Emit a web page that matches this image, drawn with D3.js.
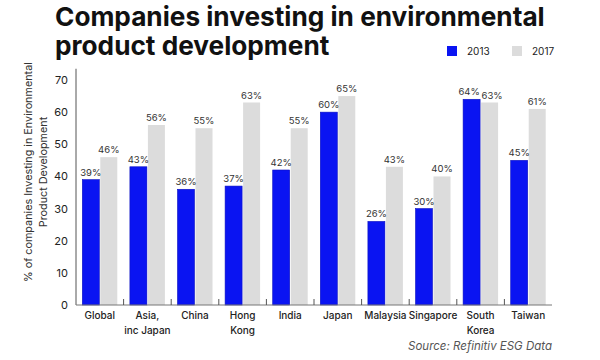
<!DOCTYPE html>
<html>
<head>
<meta charset="utf-8">
<script src="https://cdn.jsdelivr.net/npm/d3@7"></script>
<style>
  html, body { margin: 0; padding: 0; background: #fff; }
  svg { display: block; font-family: Inter, "Open Sans", sans-serif; }
</style>
</head>
<body>
<svg id="chart" width="600" height="360"></svg>
<script>
const categories = [["Global"], ["Asia,", "inc Japan"], ["China"], ["Hong", "Kong"], ["India"], ["Japan"], ["Malaysia"], ["Singapore"], ["South", "Korea"], ["Taiwan"]];
const seriesNames = ["2013", "2017"];
const values2013 = [39, 43, 36, 37, 42, 60, 26, 30, 64, 45];
const values2017 = [46, 56, 55, 63, 55, 65, 43, 40, 63, 61];
const yTicks = [0, 10, 20, 30, 40, 50, 60, 70];
const colors = ["#0a14f2", "#dcdcdc"];
const titleLines = ["Companies investing in environmental", "product development"];
const yLabelLines = ["% of companies Investing in Environmental", "Product Development"];
const sourceText = "Source: Refinitiv ESG Data";

const svg = d3.select("#chart");
const catKeys = categories.map(c => c.join(" "));
const data = catKeys.map((k, i) => ({ key: k, lines: categories[i], vals: [values2013[i], values2017[i]] }));

const x0 = d3.scaleBand().domain(catKeys).range([76, 552]).paddingInner(0).paddingOuter(0);
const x1 = d3.scaleBand().domain(seriesNames).range([0, x0.bandwidth()]).paddingInner(0.0556).paddingOuter(0.35);
const y = d3.scaleLinear().domain([0, 70]).range([305, 80]);

// Title
const title = svg.append("g");
titleLines.forEach((t, i) => {
  title.append("text")
    .attr("x", 55).attr("y", 26 + i * 29)
    .attr("font-size", 26).attr("font-weight", 700).attr("fill", "#111")
    .attr("font-family", "Inter, sans-serif")
    .text(t);
});
const tnode = title.select("text").node();
const w = tnode.getComputedTextLength();
const fs = Math.min(27, 26 * 490 / w);
title.selectAll("text").attr("font-size", fs);

// Legend
const legend = svg.append("g");
const legX = [447, 512];
seriesNames.forEach((s, i) => {
  legend.append("rect").attr("x", legX[i]).attr("y", 46).attr("width", 10).attr("height", 10).attr("fill", colors[i]);
  legend.append("text").attr("x", legX[i] + 20).attr("y", 55).attr("font-size", 10).attr("fill", "#222").text(s);
});

// Y axis
svg.append("line").attr("x1", 76).attr("x2", 76).attr("y1", y(0)).attr("y2", y(73.5)).attr("stroke", "#555").attr("stroke-width", 1);
const yAxis = d3.axisLeft(y).tickValues(yTicks).tickSize(0).tickPadding(8).tickFormat(d3.format("d"));
const yg = svg.append("g").attr("transform", "translate(76,0)").call(yAxis);
yg.select(".domain").remove();
yg.selectAll("text").attr("font-size", 11).attr("fill", "#222").attr("font-family", "Inter, sans-serif");

// Y label
const yl = svg.append("g").attr("transform", "translate(0,172) rotate(-90)");
yLabelLines.forEach((t, i) => {
  yl.append("text").attr("x", 0).attr("y", 32 + i * 15).attr("text-anchor", "middle")
    .attr("font-size", 10.8).attr("fill", "#333").text(t);
});

// Bars
const groups = svg.append("g").selectAll("g").data(data).join("g")
  .attr("transform", d => `translate(${x0(d.key)},0)`);
groups.selectAll("rect").data(d => d.vals.map((v, i) => ({ s: seriesNames[i], v, i }))).join("rect")
  .attr("x", d => x1(d.s)).attr("width", x1.bandwidth())
  .attr("y", d => y(d.v)).attr("height", d => y(0) - y(d.v))
  .attr("fill", d => colors[d.i])
  .attr("stroke", d => d.i === 0 ? "#0a10c0" : "none").attr("stroke-width", 0.6);
groups.selectAll("text.val").data(d => d.vals.map((v, i) => ({ s: seriesNames[i], v, i, close: Math.abs(d.vals[0] - d.vals[1]) < 3 }))).join("text")
  .attr("class", "val")
  .attr("x", d => x1(d.s) + x1.bandwidth() / 2 + (d.close ? (d.i === 0 ? -2.5 : 2.5) : 0))
  .attr("y", d => y(d.v) - 4)
  .attr("text-anchor", "middle").attr("font-size", 9.5).attr("fill", "#333")
  .text(d => d.v + "%");

// X axis
const xAxis = d3.axisBottom(x0).tickSize(0).tickFormat("");
const xg = svg.append("g").attr("transform", `translate(0,${y(0)})`).call(xAxis);
xg.select(".domain").attr("stroke", "#777").attr("d", `M76,0H552`);
xg.selectAll(".tick").remove();
svg.append("g").selectAll("line").data(catKeys.slice(1)).join("line")
  .attr("x1", d => x0(d)).attr("x2", d => x0(d))
  .attr("y1", y(0)).attr("y2", y(0) - 6).attr("stroke", "#555");

// X labels
const xl = svg.append("g").selectAll("text").data(data).join("text")
  .attr("text-anchor", "middle").attr("font-size", 10).attr("font-weight", 500).attr("fill", "#222");
xl.each(function(d) {
  const t = d3.select(this);
  d.lines.forEach((ln, i) => {
    t.append("tspan").attr("x", x0(d.key) + x0.bandwidth() / 2).attr("y", 319 + i * 15).text(ln);
  });
});

// Source
svg.append("text").attr("x", 552).attr("y", 350).attr("text-anchor", "end")
  .attr("font-size", 11.5).attr("font-style", "italic").attr("fill", "#555").text(sourceText);
</script>
</body>
</html>
